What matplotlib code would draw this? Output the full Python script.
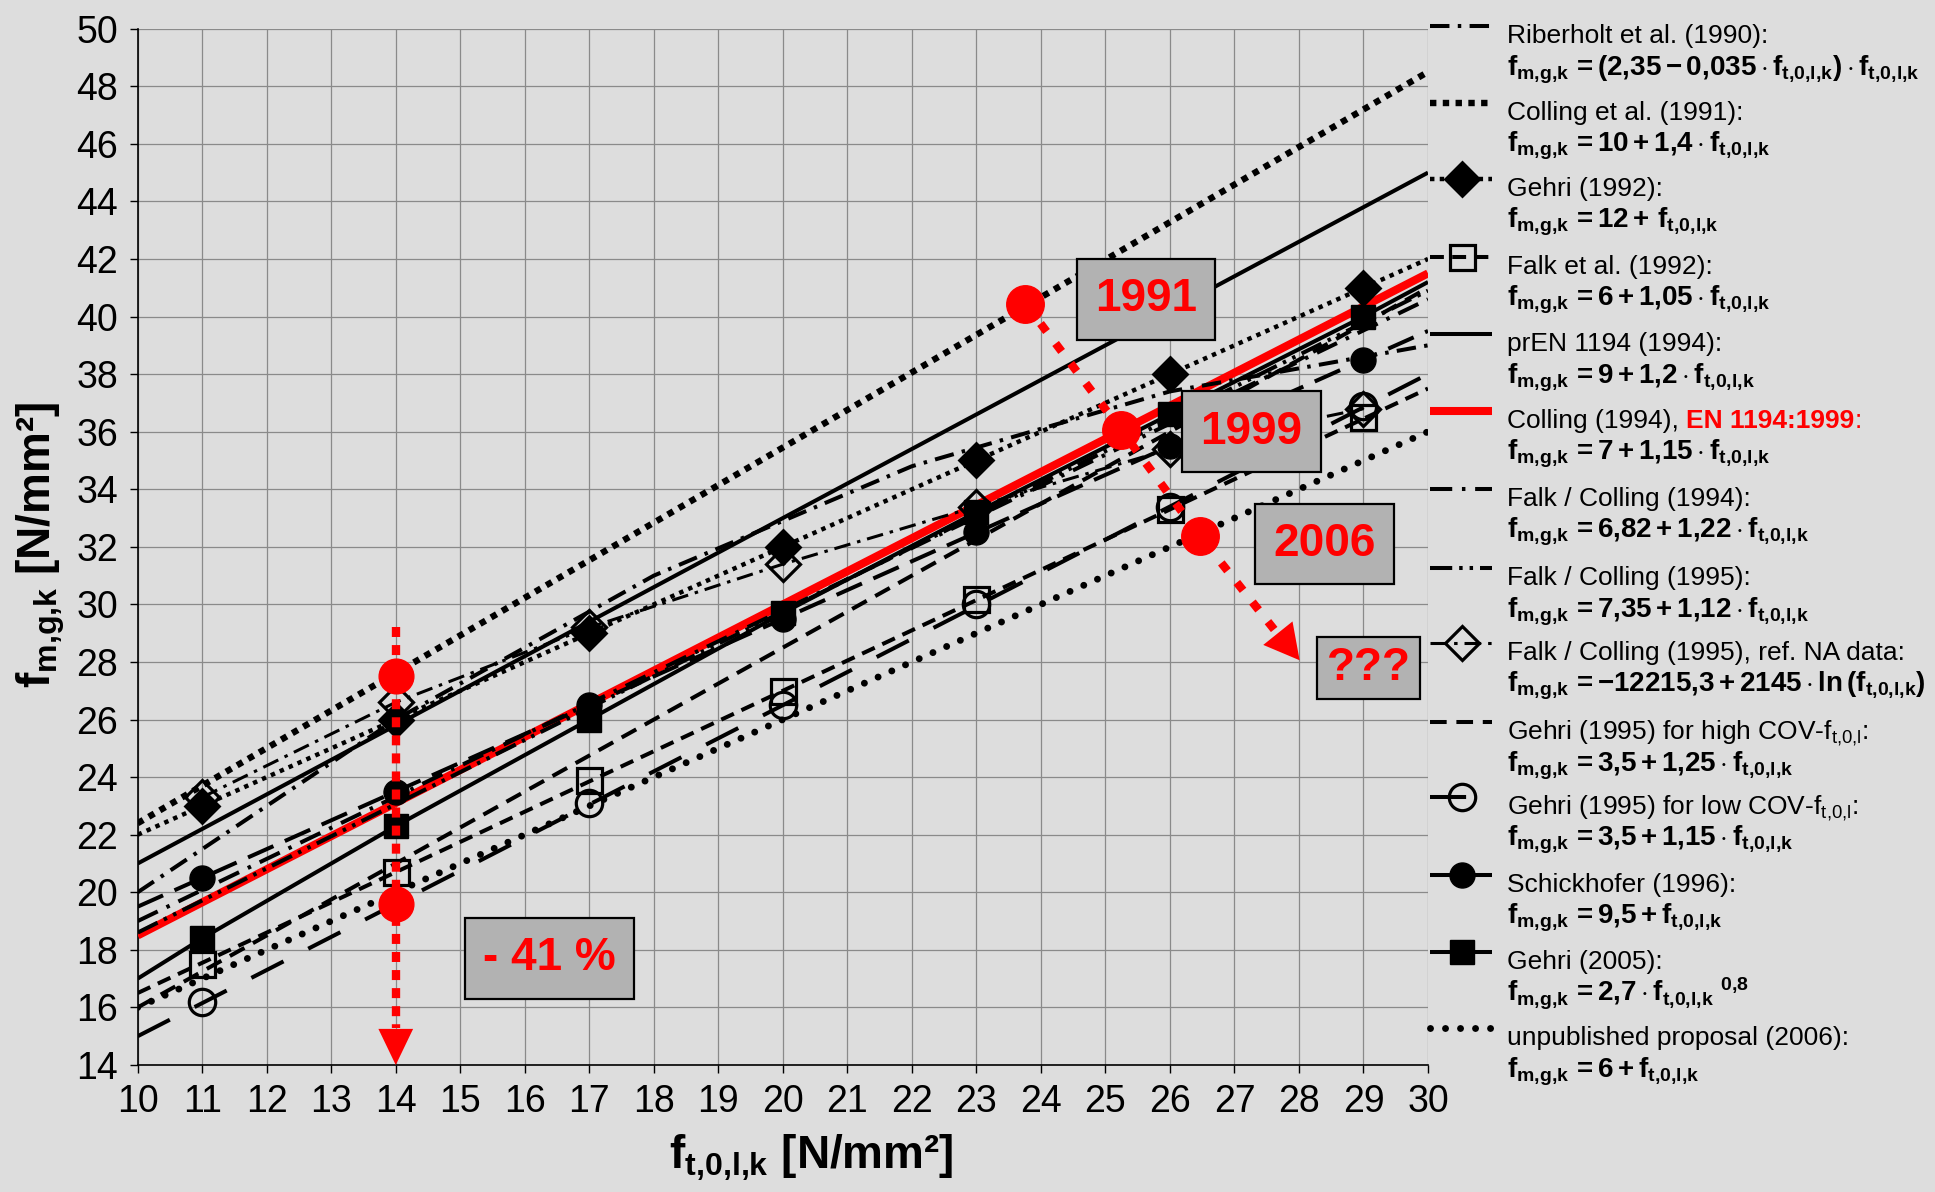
import matplotlib
matplotlib.use("Agg")
import matplotlib.pyplot as plt
from matplotlib.patches import ArrowStyle

plt.rcParams['font.family'] = ['Liberation Sans', 'DejaVu Sans']
plt.rcParams['mathtext.fontset'] = 'custom'
plt.rcParams['mathtext.rm'] = 'Liberation Sans'
plt.rcParams['mathtext.bf'] = 'Liberation Sans:bold'
plt.rcParams['mathtext.it'] = 'Liberation Sans:italic'
plt.rcParams['lines.scale_dashes'] = False

# ---------------- data ----------------
x_line = [10, 30]
x_mark = [11, 14, 17, 20, 23, 26, 29]
x_rib = [10, 14, 18, 22, 26, 30]
x_g2005 = [10, 11, 14, 17, 20, 23, 26, 29, 30]

riberholt_1990 = [20.0, 26.0, 31.0, 34.8, 37.4, 39.0]
colling_1991 = [22.4, 48.5]
gehri_1992_line = [22.0, 42.0]
gehri_1992_pts = [23.0, 26.0, 29.0, 32.0, 35.0, 38.0, 41.0]
falk_1992_line = [16.5, 37.5]
falk_1992_pts = [17.5, 20.7, 23.9, 27.0, 30.2, 33.3, 36.5]
pren_1194_1994 = [21.0, 45.0]
colling_1994 = [18.5, 41.5]
falk_colling_1994 = [19.0, 40.6]
falk_colling_1995 = [18.6, 40.9]
falk_colling_1995_na = [23.3, 26.6, 29.2, 31.4, 33.4, 35.4, 36.8]
gehri_1995_high = [16.0, 41.0]
gehri_1995_low_line = [15.0, 38.0]
gehri_1995_low_pts = [16.2, 19.6, 23.1, 26.5, 30.0, 33.4, 36.9]
schickhofer_1996_line = [19.5, 39.5]
schickhofer_1996_pts = [20.5, 23.5, 26.5, 29.5, 32.5, 35.5, 38.5]
gehri_2005 = [17.0, 18.4, 22.3, 26.0, 29.7, 33.2, 36.6, 40.0, 41.2]
unpublished_2006 = [16.0, 36.0]

# red annotations
vert_x = [14, 14]
vert_y = [29.2, 15.3]
vert_tip = [14.0, 14.0]
vert_circle_y = [27.5, 19.6]
diag_x = [23.76, 25.24, 26.46, 27.75]
diag_y = [40.45, 36.07, 32.39, 28.75]
diag_tip = [28.01, 28.06]
diag_circle_x = [23.76, 25.24, 26.46]
diag_circle_y = [40.45, 36.07, 32.39]

box_labels = ['1991', '1999', '2006', '???', '- 41 %']
box_x = [25.63, 27.26, 28.40, 29.08, 16.38]
box_y = [40.6, 36.0, 32.1, 27.8, 17.7]
box_pad = [0.4, 0.4, 0.4, 0.2, 0.4]

x_ticks = list(range(10, 31))
y_ticks = list(range(14, 51, 2))

# ---------------- figure ----------------
W, H = 1935, 1192
BG = '#dddddd'
fig = plt.figure(figsize=(W / 100, H / 100), dpi=100, facecolor=BG)
ax = fig.add_axes([137.7 / W, 1 - 1065 / H, (1428 - 137.7) / W, (1065 - 28.7) / H])
ax.set_facecolor(BG)
ax.set_xlim(10, 30)
ax.set_ylim(14, 50)
ax.set_xticks(x_ticks)
ax.set_yticks(y_ticks)
ax.grid(True, color='#8a8a8a', lw=0.9)
ax.set_axisbelow(True)
for s in ['top', 'right']:
    ax.spines[s].set_visible(False)
for s in ['left', 'bottom']:
    ax.spines[s].set_linewidth(1.2)
ax.tick_params(direction='out', length=6, width=1, labelsize=27, pad=8)
for lab in ax.get_xticklabels():
    lab.set_fontfamily(['Liberation Sans Narrow', 'Liberation Sans'])

K = 'black'
LW = 2.9
st = {
    'rib': dict(ls=(0, (14, 6, 2.5, 6)), lw=LW, color=K),
    'c91': dict(ls=(0, (4.6, 4.6)), lw=4.6, color=K, dash_capstyle='butt'),
    'g92': dict(ls=(0, (3.2, 3.8)), lw=3.2, color=K),
    'f92': dict(ls=(0, (10, 6)), lw=LW, color=K),
    'pren': dict(ls='-', lw=LW, color=K),
    'c94': dict(ls='-', lw=5.8, color='#ff0000'),
    'fc94': dict(ls=(0, (16, 7, 2.5, 7)), lw=LW, color=K),
    'fc95': dict(ls=(0, (16, 5, 2.5, 5, 2.5, 5)), lw=LW, color=K),
    'na': dict(ls=(0, (12, 5, 2.5, 5)), lw=2.2, color=K),
    'gh': dict(ls=(0, (12, 7)), lw=LW, color=K),
    'gl': dict(ls=(0, (26, 20)), lw=LW, color=K),
    'sch': dict(ls=(0, (20, 9)), lw=LW, color=K),
    'g05': dict(ls='-', lw=LW, color=K),
    'unp': dict(ls=(0, (0.01, 10.8)), lw=5.0, color=K, dash_capstyle='round'),
}
mk = {
    'g92': dict(marker='D', ms=17, mfc=K, mec=K, mew=2),
    'f92': dict(marker='s', ms=18, mfc='none', mec=K, mew=2.3),
    'na': dict(marker='D', ms=17, mfc='none', mec=K, mew=2.3),
    'gl': dict(marker='o', ms=19, mfc='none', mec=K, mew=2.3),
    'sch': dict(marker='o', ms=18, mfc=K, mec=K, mew=1),
    'g05': dict(marker='s', ms=17, mfc=K, mec=K, mew=1),
}


def line(x, y, key, z=3):
    s = dict(st[key])
    ls = s.pop('ls')
    ax.plot(x, y, linestyle=ls, zorder=z, solid_capstyle='butt', **s)


def marks(x, y, key):
    ax.plot(x, y, linestyle='none', zorder=4, **mk[key])


line(x_line, colling_1994, 'c94', z=2.6)
line(x_rib, riberholt_1990, 'rib')
line(x_line, colling_1991, 'c91')
line(x_line, gehri_1992_line, 'g92')
line(x_line, falk_1992_line, 'f92')
line(x_line, pren_1194_1994, 'pren')
line(x_line, falk_colling_1994, 'fc94')
line(x_line, falk_colling_1995, 'fc95')
line(x_mark, falk_colling_1995_na, 'na')
line(x_line, gehri_1995_high, 'gh')
line(x_line, gehri_1995_low_line, 'gl')
line(x_line, schickhofer_1996_line, 'sch')
line(x_g2005, gehri_2005, 'g05')
line(x_line, unpublished_2006, 'unp')

marks(x_mark, gehri_1992_pts, 'g92')
marks(x_mark, falk_1992_pts, 'f92')
marks(x_mark, falk_colling_1995_na, 'na')
marks(x_mark, gehri_1995_low_pts, 'gl')
marks(x_mark, schickhofer_1996_pts, 'sch')
marks(x_g2005[1:-1], gehri_2005[1:-1], 'g05')

# ---------------- red annotations ----------------
RED = '#ff0000'
ax.plot(vert_x, vert_y, color=RED, lw=6, linestyle=(0, (7.2, 5.8)),
        dash_capstyle='butt', zorder=6)
ax.plot(diag_x, diag_y, color=RED, lw=6, linestyle=(0, (7.2, 10.8)),
        dash_capstyle='butt', zorder=6)
head = ArrowStyle('-|>', head_length=26, head_width=12.5)
ax.annotate('', xy=(vert_tip[0], vert_tip[1]), xytext=(vert_x[1], vert_y[1] + 1),
            arrowprops=dict(arrowstyle=head, fc=RED, ec='none', lw=0, shrinkA=0,
                            shrinkB=0, mutation_scale=1), zorder=6)
head2 = ArrowStyle('-|>', head_length=25, head_width=13.5)
ax.annotate('', xy=(diag_tip[0], diag_tip[1]), xytext=(diag_x[2], diag_y[2]),
            arrowprops=dict(arrowstyle=head2, fc=RED, ec='none', lw=0, shrinkA=0,
                            shrinkB=0, mutation_scale=1), zorder=6)
ax.plot(vert_x[:1] * 2, vert_circle_y, 'o', color=RED, ms=25, zorder=6.5)
ax.plot(diag_circle_x, diag_circle_y, 'o', color=RED, ms=27, zorder=6.5)

for lab, bx, by, bp in zip(box_labels, box_x, box_y, box_pad):
    ax.text(bx, by, lab, ha='center', va='center', fontsize=33, fontweight='bold',
            color=RED, zorder=8,
            bbox=dict(boxstyle='square,pad=%g' % bp, fc='#b2b2b2', ec='black', lw=1.6))

# ---------------- axis labels ----------------
fig.text(811 / W, 1 - 1158 / H,
         r"$\mathbf{f}_{\mathbf{t{,}0{,}l{,}k}}$ [N/mm²]",
         ha='center', va='center', fontsize=33, fontweight='bold')
fig.text(41 / W, 1 - 545 / H,
         r"$\mathbf{f}_{\mathbf{m{,}g{,}k}}$ [N/mm²]",
         ha='center', va='center', fontsize=33, fontweight='bold', rotation=90)

# ---------------- legend ----------------
FM = r"\mathbf{f}_{\mathbf{m{,}g{,}k}}\,"
FT = r"\mathbf{f}_{\mathbf{t{,}0{,}l{,}k}}"
names = [
    "Riberholt et al. (1990):",
    "Colling et al. (1991):",
    "Gehri (1992):",
    "Falk et al. (1992):",
    "prEN 1194 (1994):",
    "Colling (1994),",
    "Falk / Colling (1994):",
    "Falk / Colling (1995):",
    "Falk / Colling (1995), ref. NA data:",
    r"Gehri (1995) for high COV-$\mathrm{f}_{\mathrm{t{,}0{,}l}}$:",
    r"Gehri (1995) for low COV-$\mathrm{f}_{\mathrm{t{,}0{,}l}}$:",
    "Schickhofer (1996):",
    "Gehri (2005):",
    "unpublished proposal (2006):",
]
formulas = [
    "$" + FM + r"\mathbf{=(2{,}35-0{,}035\cdot}" + FT + r"\mathbf{)\cdot}" + FT + "$",
    "$" + FM + r"\mathbf{=10+1{,}4\cdot}" + FT + "$",
    "$" + FM + r"\mathbf{=12+}\," + FT + "$",
    "$" + FM + r"\mathbf{=6+1{,}05\cdot}" + FT + "$",
    "$" + FM + r"\mathbf{=9+1{,}2\cdot}" + FT + "$",
    "$" + FM + r"\mathbf{=7+1{,}15\cdot}" + FT + "$",
    "$" + FM + r"\mathbf{=6{,}82+1{,}22\cdot}" + FT + "$",
    "$" + FM + r"\mathbf{=7{,}35+1{,}12\cdot}" + FT + "$",
    "$" + FM + r"\mathbf{={-}12215{,}3+2145\cdot ln\,(}" + FT + r"\mathbf{)}$",
    "$" + FM + r"\mathbf{=3{,}5+1{,}25\cdot}" + FT + "$",
    "$" + FM + r"\mathbf{=3{,}5+1{,}15\cdot}" + FT + "$",
    "$" + FM + r"\mathbf{=9{,}5+}" + FT + "$",
    "$" + FM + r"\mathbf{=2{,}7\cdot}" + FT + r"\ {}^{\mathbf{0{,}8}}$",
    "$" + FM + r"\mathbf{=6+}" + FT + "$",
]
keys = ['rib', 'c91', 'g92', 'f92', 'pren', 'c94', 'fc94', 'fc95', 'na', 'gh', 'gl',
        'sch', 'g05', 'unp']
leg_y = [26, 103, 179, 257, 334, 411, 489, 568, 643, 722, 797, 875, 952, 1028]

lax = fig.add_axes([0, 0, 1, 1])
lax.set_xlim(0, W)
lax.set_ylim(H, 0)
lax.axis('off')
lax.patch.set_alpha(0)
for key, nm, fo, ly in zip(keys, names, formulas, leg_y):
    s = dict(st[key])
    ls = s.pop('ls')
    lax.plot([1430, 1492], [ly, ly], linestyle=ls, solid_capstyle='butt', **s)
    if key in mk:
        lax.plot([1462], [ly], linestyle='none', **mk[key])
    t = lax.text(1507, ly + 17, nm, fontsize=19, va='baseline', ha='left')
    if key == 'c94':
        t2 = lax.annotate("EN 1194:1999", xy=(1, 0), xycoords=t, xytext=(5.3, 0),
                          textcoords='offset points', va='bottom', ha='left',
                          fontsize=19, fontweight='bold', color=RED)
        lax.annotate(":", xy=(1, 0), xycoords=t2, va='bottom', ha='left',
                     fontsize=19, color=RED)
    lax.text(1507, ly + 49, fo, fontsize=20, va='baseline', ha='left')

fig.savefig('out.png', dpi=100, facecolor=BG)
